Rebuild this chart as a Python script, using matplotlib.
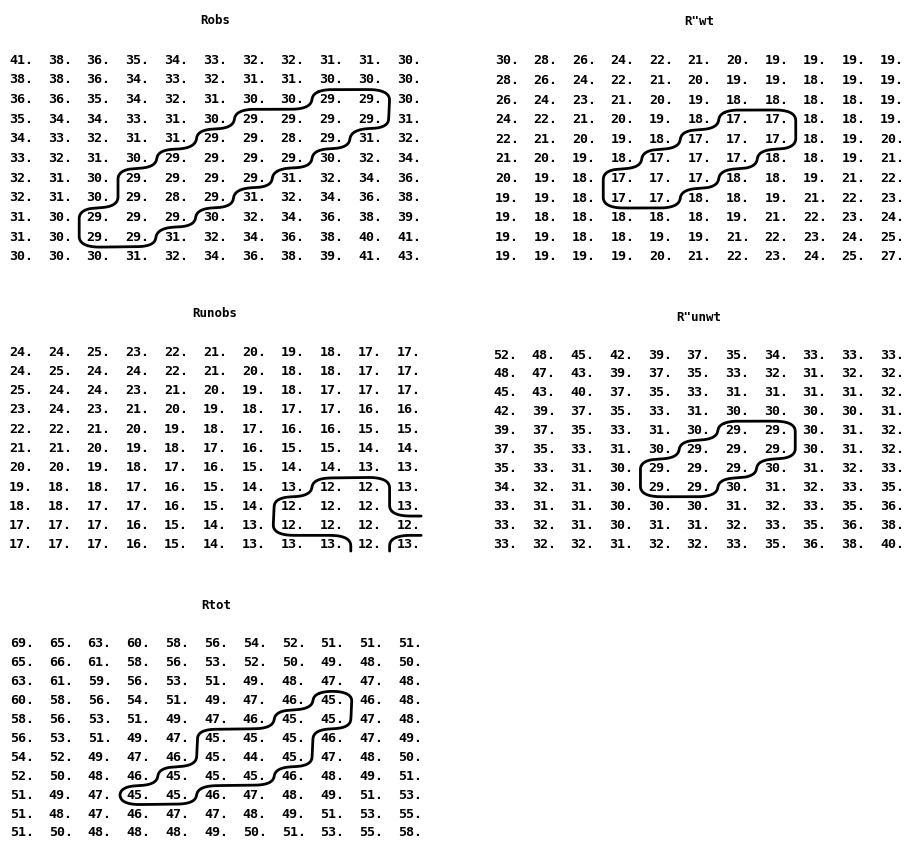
import numpy as np
import matplotlib.pyplot as plt
import contourpy

# printout values, row by row (11 x 11 each)
robs = [
    [41, 38, 36, 35, 34, 33, 32, 32, 31, 31, 30],
    [38, 38, 36, 34, 33, 32, 31, 31, 30, 30, 30],
    [36, 36, 35, 34, 32, 31, 30, 30, 29, 29, 30],
    [35, 34, 34, 33, 31, 30, 29, 29, 29, 29, 31],
    [34, 33, 32, 31, 31, 29, 29, 28, 29, 31, 32],
    [33, 32, 31, 30, 29, 29, 29, 29, 30, 32, 34],
    [32, 31, 30, 29, 29, 29, 29, 31, 32, 34, 36],
    [32, 31, 30, 29, 28, 29, 31, 32, 34, 36, 38],
    [31, 30, 29, 29, 29, 30, 32, 34, 36, 38, 39],
    [31, 30, 29, 29, 31, 32, 34, 36, 38, 40, 41],
    [30, 30, 30, 31, 32, 34, 36, 38, 39, 41, 43],
]

r_wt = [
    [30, 28, 26, 24, 22, 21, 20, 19, 19, 19, 19],
    [28, 26, 24, 22, 21, 20, 19, 19, 18, 19, 19],
    [26, 24, 23, 21, 20, 19, 18, 18, 18, 18, 19],
    [24, 22, 21, 20, 19, 18, 17, 17, 18, 18, 19],
    [22, 21, 20, 19, 18, 17, 17, 17, 18, 19, 20],
    [21, 20, 19, 18, 17, 17, 17, 18, 18, 19, 21],
    [20, 19, 18, 17, 17, 17, 18, 18, 19, 21, 22],
    [19, 19, 18, 17, 17, 18, 18, 19, 21, 22, 23],
    [19, 18, 18, 18, 18, 18, 19, 21, 22, 23, 24],
    [19, 19, 18, 18, 19, 19, 21, 22, 23, 24, 25],
    [19, 19, 19, 19, 20, 21, 22, 23, 24, 25, 27],
]

runobs = [
    [24, 24, 25, 23, 22, 21, 20, 19, 18, 17, 17],
    [24, 25, 24, 24, 22, 21, 20, 18, 18, 17, 17],
    [25, 24, 24, 23, 21, 20, 19, 18, 17, 17, 17],
    [23, 24, 23, 21, 20, 19, 18, 17, 17, 16, 16],
    [22, 22, 21, 20, 19, 18, 17, 16, 16, 15, 15],
    [21, 21, 20, 19, 18, 17, 16, 15, 15, 14, 14],
    [20, 20, 19, 18, 17, 16, 15, 14, 14, 13, 13],
    [19, 18, 18, 17, 16, 15, 14, 13, 12, 12, 13],
    [18, 18, 17, 17, 16, 15, 14, 12, 12, 12, 13],
    [17, 17, 17, 16, 15, 14, 13, 12, 12, 12, 12],
    [17, 17, 17, 16, 15, 14, 13, 13, 13, 12, 13],
]

r_unwt = [
    [52, 48, 45, 42, 39, 37, 35, 34, 33, 33, 33],
    [48, 47, 43, 39, 37, 35, 33, 32, 31, 32, 32],
    [45, 43, 40, 37, 35, 33, 31, 31, 31, 31, 32],
    [42, 39, 37, 35, 33, 31, 30, 30, 30, 30, 31],
    [39, 37, 35, 33, 31, 30, 29, 29, 30, 31, 32],
    [37, 35, 33, 31, 30, 29, 29, 29, 30, 31, 32],
    [35, 33, 31, 30, 29, 29, 29, 30, 31, 32, 33],
    [34, 32, 31, 30, 29, 29, 30, 31, 32, 33, 35],
    [33, 31, 31, 30, 30, 30, 31, 32, 33, 35, 36],
    [33, 32, 31, 30, 31, 31, 32, 33, 35, 36, 38],
    [33, 32, 32, 31, 32, 32, 33, 35, 36, 38, 40],
]

rtot = [
    [69, 65, 63, 60, 58, 56, 54, 52, 51, 51, 51],
    [65, 66, 61, 58, 56, 53, 52, 50, 49, 48, 50],
    [63, 61, 59, 56, 53, 51, 49, 48, 47, 47, 48],
    [60, 58, 56, 54, 51, 49, 47, 46, 45, 46, 48],
    [58, 56, 53, 51, 49, 47, 46, 45, 45, 47, 48],
    [56, 53, 51, 49, 47, 45, 45, 45, 46, 47, 49],
    [54, 52, 49, 47, 46, 45, 44, 45, 47, 48, 50],
    [52, 50, 48, 46, 45, 45, 45, 46, 48, 49, 51],
    [51, 49, 47, 45, 45, 46, 47, 48, 49, 51, 53],
    [51, 48, 47, 46, 47, 47, 48, 49, 51, 53, 55],
    [51, 50, 48, 48, 48, 49, 50, 51, 53, 55, 58],
]

titles = ['Robs', 'R"wt', 'Runobs', 'R"unwt', 'Rtot']
tables = [robs, r_wt, runobs, r_unwt, rtot]
contour_levels = [29.5, 17.5, 12.5, 29.5, 45.5]

# panel layout in pixels: centre of first cell (x, y), column pitch, row pitch
W, H = 910, 843
layout = [
    (21, 60, 38.8, 19.7),
    (507, 61, 38.5, 19.6),
    (21, 352, 38.8, 19.3),
    (505, 355, 38.7, 18.9),
    (22, 643.5, 38.8, 18.95),
]


def cell_contour(z, level, k=10, win=11):
    # contour that follows the cell edges (block grid), then rounded off
    zb = np.repeat(np.repeat(z, k, axis=0), k, axis=1)
    xs = (np.arange(zb.shape[1]) + 0.5) / k - 0.5
    ys = (np.arange(zb.shape[0]) + 0.5) / k - 0.5
    lines = contourpy.contour_generator(xs, ys, zb).lines(level)
    kern = np.ones(win) / win
    out = []
    for ln in lines:
        closed = np.allclose(ln[0], ln[-1])
        pts = ln[:-1] if closed else ln
        h = win // 2
        if closed:
            pad = np.vstack([pts[-h:], pts, pts[:h]])
        else:
            pad = np.vstack([np.repeat(pts[:1], h, 0), pts, np.repeat(pts[-1:], h, 0)])
        sm = np.column_stack([np.convolve(pad[:, c], kern, mode='valid') for c in range(2)])
        if closed:
            sm = np.vstack([sm, sm[:1]])
        out.append(sm)
    return out


fig = plt.figure(figsize=(W / 100, H / 100), dpi=100)
fig.patch.set_facecolor('white')
font = dict(family='DejaVu Sans Mono', fontweight='bold', fontsize=9.6, color='black')

for title, tab, lev, (cx, cy, px, py) in zip(titles, tables, contour_levels, layout):
    z = np.array(tab, dtype=float)
    nr, nc = z.shape
    left = cx - px / 2
    top = cy - py / 2
    ax = fig.add_axes([left / W, 1 - (top + nr * py) / H, nc * px / W, nr * py / H])
    ax.set_xlim(-0.5, nc - 0.5)
    ax.set_ylim(nr - 0.5, -0.5)
    ax.axis('off')
    for i in range(nr):
        for j in range(nc):
            ax.text(j, i, f'{int(z[i, j])}.', ha='center', va='center', **font)
    for seg in cell_contour(z, lev):
        ax.plot(seg[:, 0], seg[:, 1], color='black', lw=2.0,
                solid_capstyle='round', solid_joinstyle='round', clip_on=False)
    # title sits about two rows above the first line of numbers
    ax.text((nc - 1) / 2, -2.0, title, ha='center', va='center', clip_on=False,
            family='DejaVu Sans Mono', fontweight='bold', fontsize=9, color='black')

fig.savefig('out.png', dpi=100, facecolor='white')
